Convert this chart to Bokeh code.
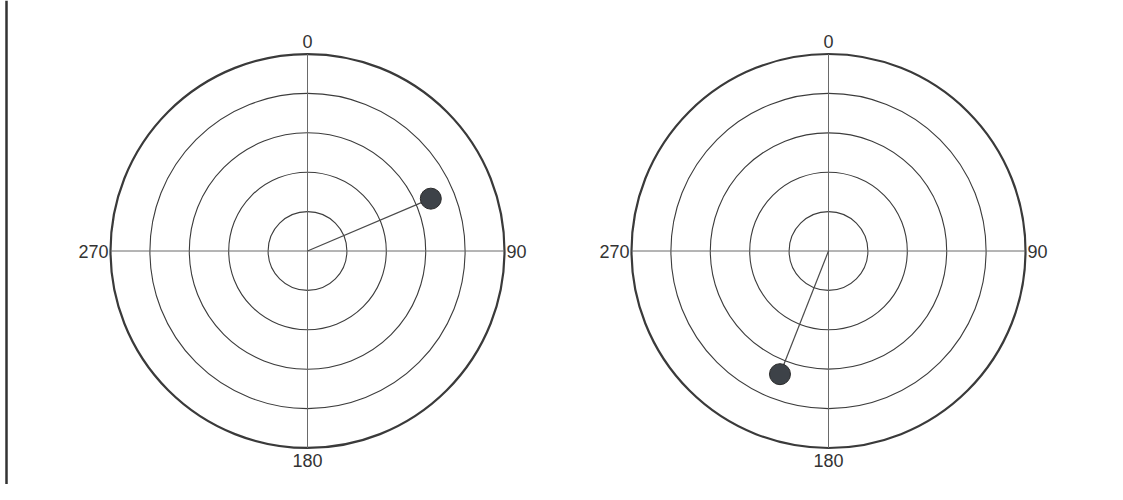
import math
from bokeh.plotting import figure
from bokeh.models import Range1d
from bokeh.core.properties import value
from bokeh.embed import file_html
from bokeh.resources import INLINE

# ---- data ----
ring_radii = [1, 2, 3, 4, 5]
angle_labels = ["0", "90", "180", "270"]
label_angles = [0, 90, 180, 270]
point_r = [3.40, 3.36]          # radius of the marker in each panel
point_theta = [67.0, 201.5]     # bearing in degrees (0 = up, clockwise)

# ---- layout ----
W, H = 1107, 484
S = 39.4                        # pixels per ring unit
cx_px = [307, 828]
cy_px = 250.5
x0 = -cx_px[0] / S
x1 = (W - cx_px[0]) / S
y1 = cy_px / S
y0 = -(H - cy_px) / S
centers = [0.0, (cx_px[1] - cx_px[0]) / S]
R = max(ring_radii)
FONT = value("Liberation Sans")

p = figure(width=W, height=H, output_backend="svg", toolbar_location=None,
           x_range=Range1d(x0, x1), y_range=Range1d(y0, y1),
           min_border=0, background_fill_color="white")
p.axis.visible = False
p.grid.visible = False
p.outline_line_color = None

# left border of the scanned page
p.segment(x0=[x0 + 6 / S], y0=[y0], x1=[x0 + 6 / S], y1=[y1],
          line_color="#333333", line_width=2.5)

for k, cx in enumerate(centers):
    # rings
    p.circle(x=[cx] * (len(ring_radii) - 1), y=[0] * (len(ring_radii) - 1),
             radius=ring_radii[:-1], fill_color=None, line_color="#3c3c3c",
             line_width=1.1)
    p.circle(x=[cx], y=[0], radius=[R], fill_color=None,
             line_color="#3a3a3a", line_width=2.2)
    # cross hairs
    p.segment(x0=[cx - R, cx], y0=[0, -R], x1=[cx + R, cx], y1=[0, R],
              line_color="#6a6a6a", line_width=1)
    # angle labels
    for lab, ang in zip(angle_labels, label_angles):
        if ang == 0:
            p.text(x=[cx], y=[R + 6 / S], text=[lab], text_align="center",
                   text_baseline="bottom", text_font=FONT,
                   text_font_size="18px", text_color="#333333")
        elif ang == 180:
            p.text(x=[cx], y=[-R - 6 / S], text=[lab], text_align="center",
                   text_baseline="top", text_font=FONT,
                   text_font_size="18px", text_color="#333333")
        elif ang == 90:
            p.text(x=[cx + R + 2 / S], y=[0], text=[lab], text_align="left",
                   text_baseline="middle", text_font=FONT,
                   text_font_size="18px", text_color="#333333")
        else:
            p.text(x=[cx - R - 2 / S], y=[0], text=[lab], text_align="right",
                   text_baseline="middle", text_font=FONT,
                   text_font_size="18px", text_color="#333333")
    # data point
    th = math.radians(point_theta[k])
    px = cx + point_r[k] * math.sin(th)
    py = point_r[k] * math.cos(th)
    p.segment(x0=[cx], y0=[0], x1=[px], y1=[py], line_color="#4a4a4a",
              line_width=1.2)
    p.scatter(x=[px], y=[py], size=21, fill_color="#3d4248",
              line_color="#2a2a2a", line_width=1)

open("out.html", "w").write(file_html(p, INLINE))
